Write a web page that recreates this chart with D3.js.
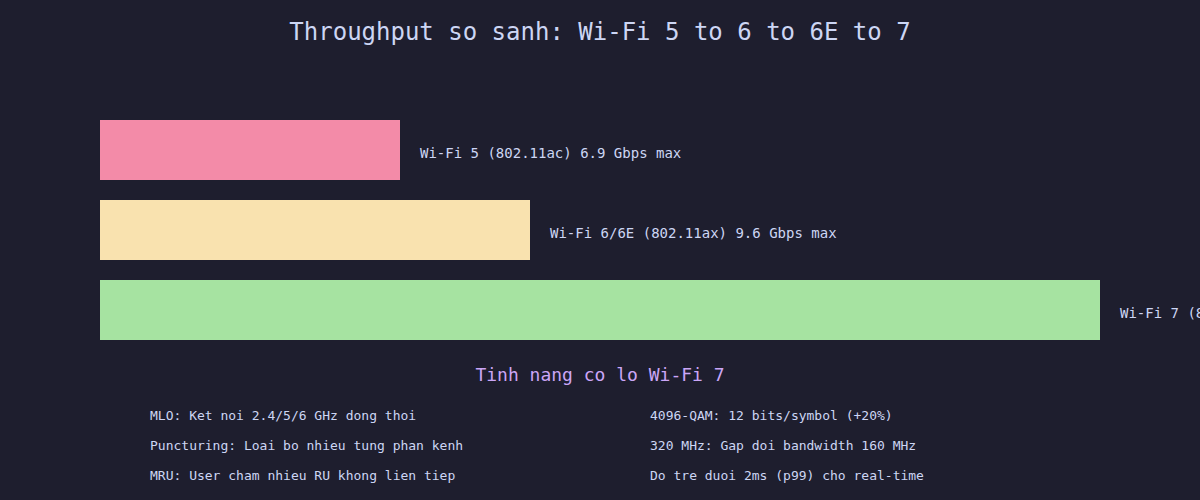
<!DOCTYPE html>
<html>
<head>
<meta charset="utf-8">
<script src="https://cdn.jsdelivr.net/npm/d3@7"></script>
<style>
  html, body { margin: 0; padding: 0; background: #1e1e2e; }
  svg { display: block; }
  text { font-family: "DejaVu Sans Mono", monospace; }
</style>
</head>
<body>
<svg id="chart" width="1200" height="500"></svg>
<script>
// ---- data ----
const standards = ["Wi-Fi 5 (802.11ac)", "Wi-Fi 6/6E (802.11ax)", "Wi-Fi 7 (802.11be)"];
const maxGbps = [6.9, 9.6, 46];
const relativeIndex = [30, 43, 100]; // bar length index as drawn in the reference
const barColors = ["#f38ba8", "#f9e2af", "#a6e3a1"];
const featuresLeft = [
  "MLO: Ket noi 2.4/5/6 GHz dong thoi",
  "Puncturing: Loai bo nhieu tung phan kenh",
  "MRU: User cham nhieu RU khong lien tiep"
];
const featuresRight = [
  "4096-QAM: 12 bits/symbol (+20%)",
  "320 MHz: Gap doi bandwidth 160 MHz",
  "Do tre duoi 2ms (p99) cho real-time"
];
const titleText = "Throughput so sanh: Wi-Fi 5 to 6 to 6E to 7";
const subtitleText = "Tinh nang co lo Wi-Fi 7";

// ---- drawing ----
const W = 1200, H = 500;
const svg = d3.select("#chart");
svg.append("rect").attr("width", W).attr("height", H).attr("fill", "#1e1e2e");

svg.append("text")
  .attr("x", W / 2).attr("y", 40)
  .attr("text-anchor", "middle")
  .attr("font-size", 24)
  .attr("fill", "#cdd6f4")
  .text(titleText);

const x = d3.scaleLinear().domain([0, 100]).range([100, 1100]);
const y = d3.scaleBand().domain(standards).range([110, 350]).paddingInner(0.25).paddingOuter(0.125);

const rows = standards.map((s, i) => ({ s, g: maxGbps[i], v: relativeIndex[i], c: barColors[i] }));

svg.selectAll("rect.bar").data(rows).join("rect")
  .attr("class", "bar")
  .attr("x", x(0))
  .attr("y", d => y(d.s))
  .attr("width", d => x(d.v) - x(0))
  .attr("height", y.bandwidth())
  .attr("fill", d => d.c);

svg.selectAll("text.lbl").data(rows).join("text")
  .attr("class", "lbl")
  .attr("x", d => x(d.v) + 20)
  .attr("y", d => y(d.s) + y.bandwidth() / 2)
  .attr("dy", "0.6em")
  .attr("font-size", 14)
  .attr("fill", "#cdd6f4")
  .text(d => `${d.s} ${d.g} Gbps max`);

svg.append("text")
  .attr("x", W / 2).attr("y", 381)
  .attr("text-anchor", "middle")
  .attr("font-size", 18)
  .attr("fill", "#cba6f7")
  .text(subtitleText);

const fy = d3.scalePoint().domain(d3.range(featuresLeft.length)).range([420, 480]);
svg.selectAll("text.fl").data(featuresLeft).join("text")
  .attr("class", "fl")
  .attr("x", 150).attr("y", (d, i) => fy(i))
  .attr("font-size", 13).attr("fill", "#cdd6f4")
  .text(d => d);
svg.selectAll("text.fr").data(featuresRight).join("text")
  .attr("class", "fr")
  .attr("x", 650).attr("y", (d, i) => fy(i))
  .attr("font-size", 13).attr("fill", "#cdd6f4")
  .text(d => d);
</script>
</body>
</html>
